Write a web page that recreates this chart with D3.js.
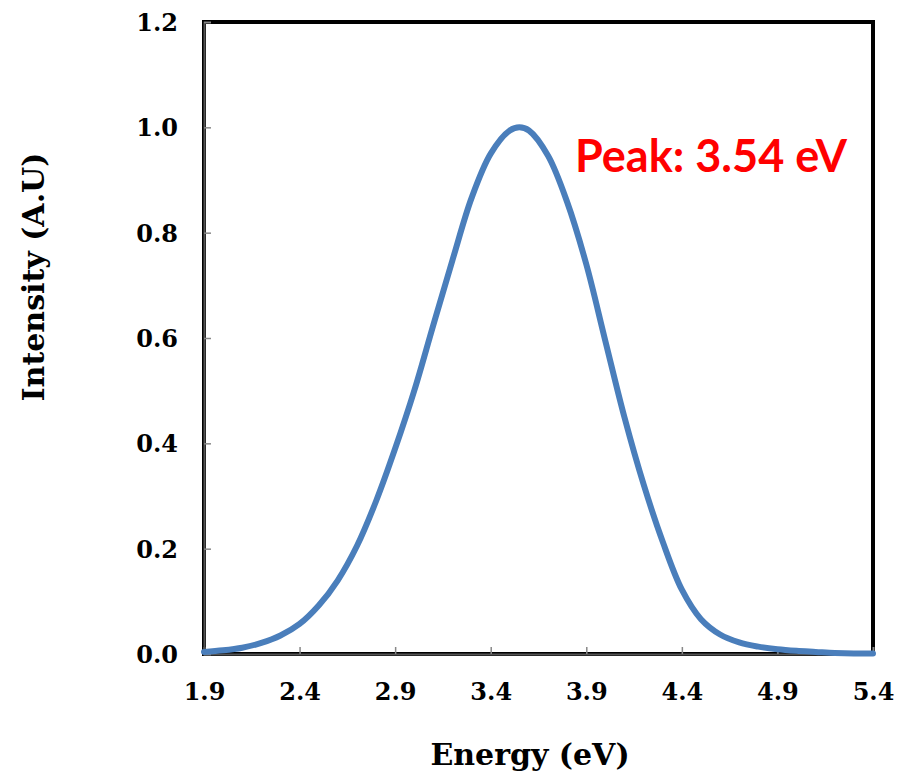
<!DOCTYPE html>
<html><head><meta charset="utf-8">
<script src="https://cdn.jsdelivr.net/npm/d3@7"></script>
<style>body{margin:0;background:#fff}</style>
</head><body>
<script>
const energy = [1.9,2.0,2.1,2.2,2.3,2.4,2.5,2.6,2.7,2.8,2.9,3.0,3.1,3.2,3.3,3.4,3.5,3.55,3.6,3.7,3.8,3.9,4.0,4.1,4.2,4.3,4.4,4.5,4.6,4.7,4.8,4.9,5.0,5.1,5.2,5.3,5.4];
const intensity = [0.004,0.007,0.012,0.021,0.035,0.057,0.092,0.140,0.205,0.290,0.390,0.500,0.625,0.748,0.866,0.950,0.994,1.0,0.994,0.946,0.858,0.740,0.594,0.449,0.322,0.213,0.122,0.066,0.037,0.022,0.014,0.009,0.006,0.004,0.002,0.001,0.001];
const xTicks = [1.9,2.4,2.9,3.4,3.9,4.4,4.9,5.4];
const yTicks = [0,0.2,0.4,0.6,0.8,1.0,1.2];
const peakLabel = "Peak: 3.54 eV";

const W=899,H=773;
const L=204,R=873,T=22,B=654;
const svg=d3.select("body").append("svg").attr("width",W).attr("height",H);
const x=d3.scaleLinear().domain([1.9,5.4]).range([L,R]);
const y=d3.scaleLinear().domain([0,1.2]).range([B,T]);

// frame
svg.append("rect").attr("x",L).attr("y",T).attr("width",R-L).attr("height",B-T)
  .attr("fill","none").attr("stroke","#000").attr("stroke-width",4);

// axes
const xAxis=svg.append("g").attr("transform",`translate(0,${B})`)
  .call(d3.axisBottom(x).tickValues(xTicks).tickSize(-7).tickFormat(d3.format(".1f")).tickPadding(29));
const yAxis=svg.append("g").attr("transform",`translate(${L},0)`)
  .call(d3.axisLeft(y).tickValues(yTicks).tickSize(-7).tickFormat(d3.format(".1f")).tickPadding(26));
[xAxis,yAxis].forEach(g=>{
  g.select(".domain").attr("stroke","#555").attr("stroke-width",2);
  g.selectAll(".tick line").attr("stroke","#888").attr("stroke-width",1.5);
  g.selectAll(".tick text").attr("fill","#000").attr("font-family","'DejaVu Serif', serif")
    .attr("font-weight","bold").attr("font-size","24px");
});
xAxis.selectAll(".tick text").attr("dy","0.71em");
yAxis.selectAll(".tick text").attr("dy","0.36em");

// curve
const line=d3.line().x((d,i)=>x(energy[i])).y(d=>y(d)).curve(d3.curveCatmullRom.alpha(0.5));
svg.append("path").datum(intensity).attr("d",line).attr("fill","none")
  .attr("stroke","#4a7ebb").attr("stroke-width",6).attr("stroke-linecap","round");

// titles
svg.append("text").attr("x",530).attr("y",765).attr("text-anchor","middle")
  .attr("font-family","'DejaVu Serif', serif").attr("font-weight","bold").attr("font-size","30px")
  .text("Energy (eV)");
svg.append("text").attr("transform","translate(44,277) rotate(-90)").attr("text-anchor","middle")
  .attr("font-family","'DejaVu Serif', serif").attr("font-weight","bold").attr("font-size","30px")
  .text("Intensity (A.U)");
svg.append("text").attr("x",575).attr("y",172).attr("fill","#ff0000")
  .attr("font-family","Lato, 'Open Sans', sans-serif").attr("font-weight","bold").attr("font-size","45px")
  .text(peakLabel);
</script>
</body></html>
